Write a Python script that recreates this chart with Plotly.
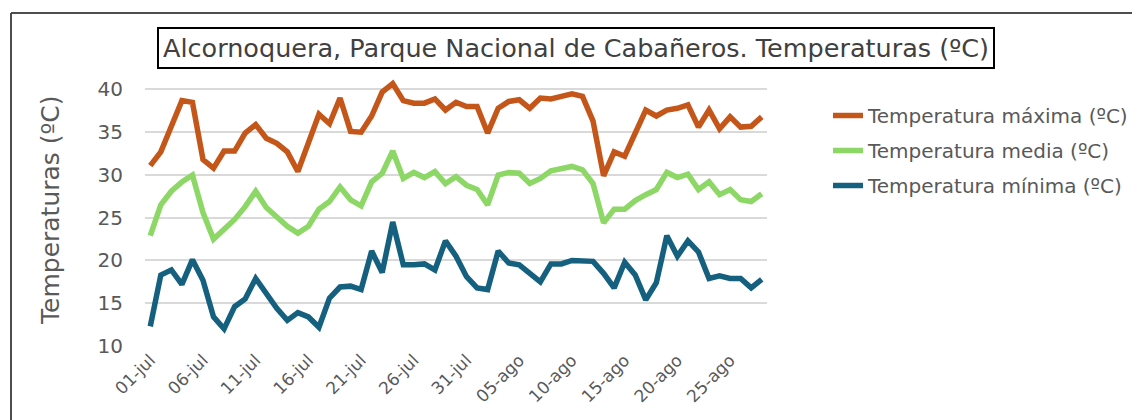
import plotly.graph_objects as go
import datetime as dt

# ---- data ----
start = dt.date(2024, 7, 1)
meses = {7: "jul", 8: "ago"}
dates = [start + dt.timedelta(days=i) for i in range(59)]
categories = [f"{d.day:02d}-{meses[d.month]}" for d in dates]

t_max = [31.1, 32.7, 35.7, 38.7, 38.5, 31.8, 30.8, 32.8, 32.8, 34.9,
         35.9, 34.3, 33.7, 32.7, 30.4, 33.9, 37.1, 36.0, 39.0, 35.1,
         35.0, 36.9, 39.7, 40.7, 38.7, 38.4, 38.4, 38.9, 37.6, 38.5,
         38.0, 38.0, 34.9, 37.8, 38.6, 38.8, 37.8, 39.0, 38.9, 39.2,
         39.5, 39.2, 36.3, 29.9, 32.7, 32.2, 35.1, 37.6, 36.9, 37.6,
         37.8, 38.2, 35.6, 37.6, 35.4, 36.8, 35.6, 35.7, 36.8]

t_media = [22.9, 26.5, 28.1, 29.2, 30.0, 25.6, 22.5, 23.7, 24.8, 26.3,
           28.1, 26.2, 25.0, 24.0, 23.2, 24.0, 26.0, 26.9, 28.6, 27.1,
           26.4, 29.2, 30.2, 32.8, 29.6, 30.3, 29.7, 30.4, 29.0, 29.8,
           28.8, 28.3, 26.5, 30.0, 30.3, 30.2, 29.0, 29.6, 30.5, 30.8,
           31.0, 30.6, 29.0, 24.4, 26.0, 26.0, 27.0, 27.7, 28.3, 30.3,
           29.7, 30.1, 28.3, 29.2, 27.7, 28.3, 27.1, 26.9, 27.8]

t_min = [12.3, 18.3, 18.9, 17.2, 20.1, 17.7, 13.4, 12.0, 14.6, 15.5,
         17.9, 16.2, 14.4, 13.0, 13.9, 13.4, 12.2, 15.6, 16.9, 17.0,
         16.6, 21.1, 18.6, 24.5, 19.5, 19.5, 19.6, 18.9, 22.3, 20.5,
         18.1, 16.8, 16.6, 21.1, 19.7, 19.5, 18.5, 17.5, 19.6, 19.6,
         20.0, 19.9, 19.9, 18.5, 16.8, 19.8, 18.3, 15.4, 17.4, 22.9,
         20.5, 22.3, 21.0, 17.9, 18.2, 17.9, 17.9, 16.8, 17.8]

series_names = ["Temperatura máxima (ºC)", "Temperatura media (ºC)", "Temperatura mínima (ºC)"]
series_colors = ["#C4561A", "#8CD766", "#16607F"]
y_ticks = [10, 15, 20, 25, 30, 35, 40]
x_ticks = categories[::5]

title_text = "Alcornoquera, Parque Nacional de Cabañeros. Temperaturas (ºC)"
y_title = "Temperaturas (ºC)"

FONT = "DejaVu Sans"
GRAY = "#595959"

fig = go.Figure()
for name, vals, col in zip(series_names, [t_max, t_media, t_min], series_colors):
    fig.add_trace(go.Scatter(
        x=categories, y=vals, mode="lines", name=name,
        legendgroup=name,
        line=dict(color=col, width=5.5, shape="linear"),
    ))

# page offset (body margin) and plot area in screen pixels
OFF = 8
W, H = 1140, 420
SL, SR, ST, SB = 145, 767, 77, 346
L, R, T, B = SL - OFF, SR - OFF, ST - OFF, SB - OFF
def px(x):
    return (x - SL) / (SR - SL)
def py(y):
    return (SB - y) / (SB - ST)

BORDER = dict(color="#4d4d4d", width=2)

fig.update_layout(
    width=W, height=H,
    margin=dict(l=L, r=W - R, t=T, b=H - B),
    paper_bgcolor="white", plot_bgcolor="white",
    font=dict(family=FONT, color=GRAY),
    showlegend=True,
    legend=dict(
        x=px(828), y=py(96), xanchor="left", yanchor="top",
        font=dict(family=FONT, size=20, color=GRAY),
        tracegroupgap=6, bgcolor="rgba(0,0,0,0)",
    ),
    xaxis=dict(
        type="category", categoryorder="array", categoryarray=categories,
        tickvals=x_ticks, ticktext=x_ticks, tickangle=-45,
        tickfont=dict(family=FONT, size=17, color=GRAY),
        showgrid=False, zeroline=False, showline=False, ticks="",
        range=[-0.5, len(categories) - 0.5],
    ),
    yaxis=dict(
        range=[10, 41.46], tickvals=y_ticks,
        tickfont=dict(family=FONT, size=20, color=GRAY),
        showgrid=True, gridcolor="#D9D9D9", gridwidth=1.5,
        zeroline=False, showline=False, ticks="",
        ticklabelstandoff=21,
    ),
    annotations=[
        dict(text=title_text, xref="paper", yref="paper",
             x=px(576), y=py(47.5), xanchor="center", yanchor="middle",
             showarrow=False, font=dict(family=FONT, size=25.5, color="#404040"),
             bordercolor="#000000", borderwidth=2, borderpad=4,
             bgcolor="white"),
        dict(text=y_title, xref="paper", yref="paper",
             x=px(50), y=py(210), xanchor="center", yanchor="middle",
             textangle=-90, showarrow=False,
             font=dict(family=FONT, size=25, color=GRAY)),
    ],
    shapes=[
        dict(type="line", xref="paper", yref="paper",
             x0=px(11), x1=px(1300), y0=py(13), y1=py(13),
             line=BORDER, layer="below"),
        dict(type="line", xref="paper", yref="paper",
             x0=px(11), x1=px(11), y0=py(13), y1=py(600),
             line=BORDER, layer="below"),
    ],
)

fig.write_html("out.html")
